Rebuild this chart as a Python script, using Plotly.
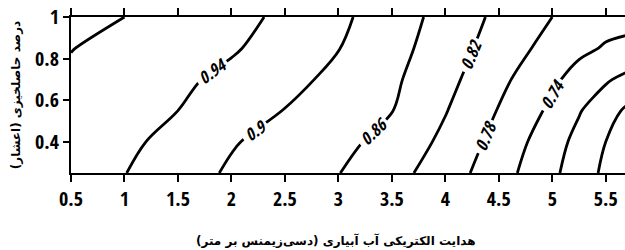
import plotly.graph_objects as go

# Grid of irrigation-water EC (x) and fertility fraction (y)
ec_values = [0.5, 1.0, 1.5, 2.0, 2.5, 3.0, 3.5, 4.0, 4.5, 5.0, 5.25, 5.5, 5.7]
fertility_values = [0.25, 0.4, 0.55, 0.7, 0.85, 1.0]

# Relative yield estimated from the contour picture, one row per fertility level
yield_y025 = [0.955, 0.941, 0.917, 0.895, 0.878, 0.861, 0.834, 0.800, 0.757, 0.708, 0.680, 0.652, 0.640]
yield_y040 = [0.962, 0.948, 0.928, 0.903, 0.886, 0.870, 0.848, 0.811, 0.767, 0.717, 0.688, 0.660, 0.650]
yield_y055 = [0.968, 0.954, 0.940, 0.920, 0.899, 0.880, 0.861, 0.822, 0.778, 0.732, 0.703, 0.675, 0.654]
yield_y070 = [0.974, 0.960, 0.947, 0.931, 0.911, 0.891, 0.867, 0.832, 0.790, 0.747, 0.726, 0.705, 0.689]
yield_y085 = [0.981, 0.969, 0.956, 0.944, 0.924, 0.901, 0.874, 0.840, 0.802, 0.766, 0.748, 0.737, 0.735]
yield_y100 = [0.990, 0.980, 0.965, 0.951, 0.933, 0.908, 0.879, 0.847, 0.811, 0.780, 0.762, 0.752, 0.747]

contour_start, contour_end, contour_step = 0.66, 0.98, 0.04

x_ticks = [0.5, 1, 1.5, 2, 2.5, 3, 3.5, 4, 4.5, 5, 5.5]
x_ticktext = ["0.5", "1", "1.5", "2", "2.5", "3", "3.5", "4", "4.5", "5", "5.5"]
y_ticks = [0.4, 0.6, 0.8, 1.0]
y_ticktext = ["0.4", "0.6", "0.8", "1"]

x_title = "هدایت الکتریکی آب آبیاری (دسی‌زیمنس بر متر)"
y_title = "درصد حاصلخیزی (اعشار)"

z = [yield_y025, yield_y040, yield_y055, yield_y070, yield_y085, yield_y100]

narrow = "Open Sans Condensed"

fig = go.Figure()
fig.add_trace(go.Contour(
    x=ec_values, y=fertility_values, z=z,
    contours=dict(start=contour_start, end=contour_end, size=contour_step,
                  coloring="lines", showlabels=True,
                  labelfont=dict(family=narrow, size=17, color="black",
                                 weight="bold", style="italic")),
    colorscale=[[0, "black"], [1, "black"]],
    line=dict(width=2.8, smoothing=1.0),
    showscale=False, hoverinfo="skip",
))

tickfont = dict(family=narrow, size=20, color="black", weight="bold")

fig.update_layout(
    width=625, height=250,
    margin=dict(l=71, r=0, t=17, b=77),
    paper_bgcolor="white", plot_bgcolor="white",
    showlegend=False,
    xaxis=dict(range=[0.5, 5.68], tickvals=x_ticks, ticktext=x_ticktext,
               showgrid=False, zeroline=False, showline=True, linecolor="black",
               linewidth=2, mirror="ticks", ticks="outside", ticklen=7, tickwidth=2,
               tickcolor="black", tickfont=tickfont, automargin=False),
    yaxis=dict(range=[0.25, 1.0], tickvals=y_ticks, ticktext=y_ticktext,
               showgrid=False, zeroline=False, showline=True, linecolor="black",
               linewidth=2, ticks="outside", ticklen=6, tickwidth=2,
               tickcolor="black", tickfont=tickfont, automargin=False,
               title=dict(text=y_title, standoff=12,
                          font=dict(family="DejaVu Sans", size=12, color="black", weight="bold"))),
    annotations=[dict(text=x_title, xref="paper", yref="paper", x=0.478, y=-0.43,
                      xanchor="center", yanchor="middle", showarrow=False,
                      font=dict(family="DejaVu Sans", size=12, color="black", weight="bold"))],
)

fig.write_html("out.html", config={"displayModeBar": False},
               post_script="document.body.style.margin='0';")
